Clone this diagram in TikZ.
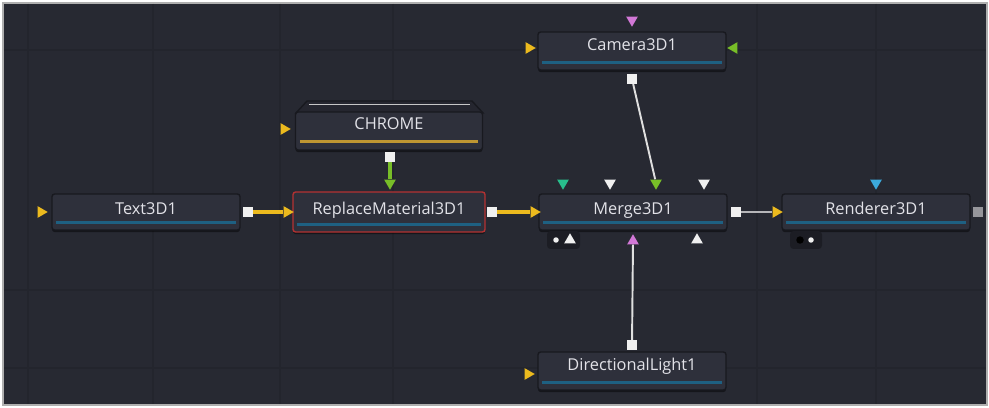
\documentclass[tikz,border=0pt]{standalone}
\usepackage{fontspec}
\setmainfont{Open Sans}
\usetikzlibrary{shapes.geometric,shadows}
\definecolor{bgdark}{RGB}{39,41,50}
\definecolor{gridc}{RGB}{35,37,45}
\definecolor{framegray}{RGB}{175,175,175}
\definecolor{nodefill}{RGB}{46,48,59}
\definecolor{nodeedge}{RGB}{24,25,31}
\definecolor{nodetext}{RGB}{226,226,232}
\definecolor{barblue}{RGB}{30,96,130}
\definecolor{bargold}{RGB}{190,150,50}
\definecolor{selred}{RGB}{180,50,50}
\definecolor{pyellow}{RGB}{236,186,30}
\definecolor{pgreen}{RGB}{120,190,40}
\definecolor{ppink}{RGB}{210,120,215}
\definecolor{pteal}{RGB}{40,190,140}
\definecolor{pcyan}{RGB}{60,170,220}
\definecolor{pwhite}{RGB}{240,240,240}
\definecolor{pgray}{RGB}{150,150,155}
\definecolor{tabfill}{RGB}{28,29,36}

\begin{document}
\begin{tikzpicture}[x=0.02cm,y=-0.02cm,
	tool/.style={draw=nodeedge, fill=nodefill, rounded corners=1.5pt, line width=0.8pt,
		minimum width=3.76cm, minimum height=0.72cm, inner sep=0pt, text=nodetext,
		font=\fontsize{9.3}{11}\selectfont, text height=7pt, text depth=4pt,
		drop shadow={shadow xshift=0pt, shadow yshift=-1.2pt, fill=black, opacity=.45}},
	tri/.style={regular polygon, regular polygon sides=3, inner sep=0pt, minimum size=0.27cm},
	triright/.style={tri, shape border rotate=-90},
	trileft/.style={tri, shape border rotate=90},
	tridown/.style={tri, shape border rotate=180},
	triup/.style={tri},
	outsq/.style={rectangle, fill=pwhite, inner sep=0pt, minimum size=0.19cm},
	dot/.style={circle, inner sep=0pt, minimum size=0.11cm},
	bar/.style={line width=1.5pt},
	ylink/.style={pyellow, line width=1.9pt},
	glink/.style={pgreen, line width=1.9pt},
	wlink/.style={pwhite!85!gray, line width=1.1pt}]
\useasboundingbox (0,0) rectangle (989,408);
\fill[white] (0,0) rectangle (989,408);
\filldraw[fill=bgdark, draw=framegray, line width=1.2pt] (3,3) rectangle (987,405);
% grid
\foreach \gx in {28,153,280,393,757,876}
	\draw[gridc, line width=1.2pt] (\gx,4) -- (\gx,404);
\foreach \gy in {50,290,368}
	\draw[gridc, line width=1.2pt] (4,\gy) -- (986,\gy);
%
% CHROME header
\filldraw[fill=nodefill!80!black, draw=nodeedge, line width=0.8pt]
	(296,113) -- (307,101) -- (472,101) -- (483,113) -- cycle;
\draw[gray!45, line width=0.5pt] (309,104) -- (470,104);
\node[tool, minimum width=3.74cm, minimum height=0.76cm] (chrome) at (389,131) {\raisebox{2.5pt}{CHROME}};
\draw[bar, bargold] ([shift={(5,-9)}]chrome.south west) -- ([shift={(-5,-9)}]chrome.south east);
%
\node[tool] (txt) at (146,212) {Text3D1};
\node[tool, draw=selred, minimum width=3.84cm, minimum height=0.8cm] (rep) at (389,212) {ReplaceMaterial3D1};
\node[tool] (merge) at (633,212) {Merge3D1};
\node[tool] (render) at (876,212) {Renderer3D1};
\node[tool, minimum height=0.76cm] (cam) at (632,51) {\raisebox{2pt}{Camera3D1}};
\node[tool, minimum height=0.76cm] (dir) at (632,371) {\raisebox{2pt}{DirectionalLight1}};
\foreach \n in {txt,rep,merge,render,cam,dir}
	\draw[bar, barblue] ([shift={(5,-8)}]\n.south west) -- ([shift={(-5,-8)}]\n.south east);
%
% bottom tabs
\fill[tabfill, rounded corners=2pt] (547,231) rectangle (580,249);
\fill[tabfill, rounded corners=2pt] (790,231) rectangle (822,249);
%
% ports
\node[triright, fill=pyellow] (txtin) at (41,212) {};
\node[outsq] (txtout) at (248,212) {};
\node[triright, fill=pyellow] (repin) at (287,212) {};
\node[tridown, fill=pgreen] (reptop) at (390,183) {};
\node[outsq] (repout) at (492,212) {};
\node[triright, fill=pyellow] (chromein) at (284,129) {};
\node[outsq] (chromeout) at (390,157) {};
\node[tridown, fill=ppink] (camtop) at (632,20) {};
\node[triright, fill=pyellow] (camin) at (529,48) {};
\node[trileft, fill=pgreen] (camright) at (734,48) {};
\node[outsq] (camout) at (632,79) {};
\node[triright, fill=pyellow] (mergein) at (534,212) {};
\node[tridown, fill=pteal] (mergea) at (563,183) {};
\node[tridown, fill=pwhite] (mergeb) at (610,183) {};
\node[tridown, fill=pgreen] (mergec) at (656,183) {};
\node[tridown, fill=pwhite] (merged) at (704,183) {};
\node[dot, fill=pwhite] (mergedot) at (556,240) {};
\node[triup, fill=pwhite] (mergebota) at (570,240) {};
\node[triup, fill=ppink] (mergebotb) at (633,241) {};
\node[triup, fill=pwhite] (mergebotc) at (697,240) {};
\node[outsq] (mergeout) at (736,212) {};
\node[triright, fill=pyellow] (renderin) at (776,212) {};
\node[tridown, fill=pcyan] (rendertop) at (876,183) {};
\node[outsq, fill=pgray] (renderout) at (978,212) {};
\node[dot, fill=black, minimum size=0.15cm] (renderdota) at (800,240) {};
\node[dot, fill=pwhite] (renderdotb) at (811,240) {};
\node[triright, fill=pyellow] (dirin) at (528,374) {};
\node[outsq] (dirout) at (632,345) {};
%
% links
\draw[ylink] (txtout) -- (repin);
\draw[ylink] (repout) -- (mergein);
\draw[glink] (chromeout) -- (reptop);
\draw[wlink] (camout) -- (mergec);
\draw[wlink, pgray!70!white] (mergeout) -- (renderin);
\draw[wlink] (dirout) -- (mergebotb);
\end{tikzpicture}
\end{document}
